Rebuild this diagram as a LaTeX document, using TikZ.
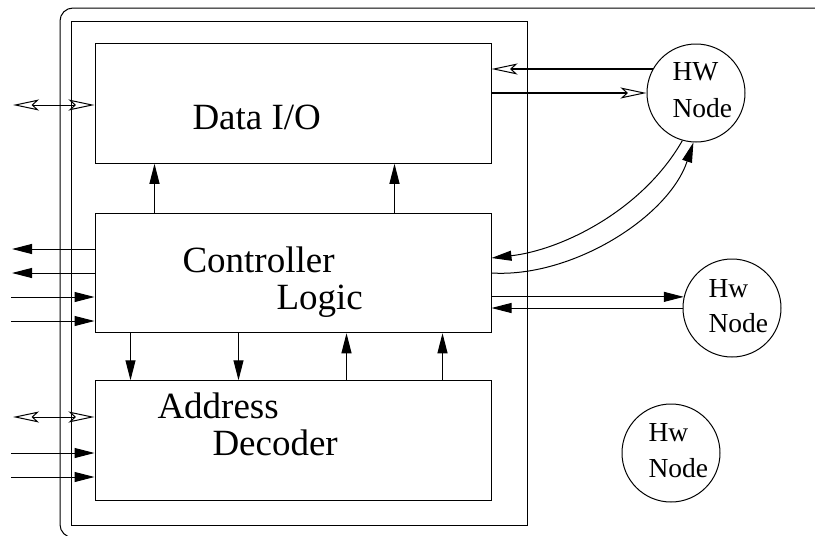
\documentclass[tikz,border=0pt]{standalone}
\usepackage{fontspec}
\setmainfont{Liberation Serif}
\usetikzlibrary{arrows.meta}
\begin{document}
\begin{tikzpicture}[x=1pt,y=-1pt,line width=1pt,
  box/.style={draw,minimum width=396pt,minimum height=119.5pt,inner sep=0pt},
  hw/.style={draw,circle,minimum size=98pt,inner sep=0pt},
  big/.style={font=\fontsize{37}{37}\selectfont,anchor=base west,inner sep=0pt},
  small/.style={font=\fontsize{27.5}{27.5}\selectfont,anchor=base west,inner sep=0pt},
  fa/.style={-{Triangle[length=20pt,width=10pt]}},
  oa/.style={-{Stealth[open,length=26pt,width=11pt,inset=6pt,line width=1pt]}},
  da/.style={{Stealth[open,length=26pt,width=11pt,inset=6pt,line width=1pt]}-{Stealth[open,length=26pt,width=11pt,inset=6pt,line width=1pt]}},
  heavy/.style={line width=2pt}]
\useasboundingbox (0,0) rectangle (815,536);
\clip (0,0) rectangle (815,536);
\draw[rounded corners=13pt] (60,8) rectangle (850,537.5);
\draw (71,21) rectangle (527,525);
% boxes
\node[box] (data) at (293,103.5) {};
\node[box] (ctrl) at (293,273) {};
\node[box] (addr) at (293,440.5) {};
% labels
\node[big] (tdata) at (192,129) {Data I/O};
\node[big] (tctrl) at (182,272) {Controller};
\node[big] (tlogic) at (276,309) {Logic};
\node[big] (taddr) at (157,418) {Address};
\node[big] (tdec) at (212,455) {Decoder};
% hw nodes
\node[hw] (hwa) at (696,93) {};
\node[hw] (hwb) at (732,308) {};
\node[hw] (hwc) at (671,453) {};
\node[small] (ta1) at (672,80) {HW};
\node[small] (ta2) at (672,117) {Node};
\node[small] (tb1) at (708,297) {Hw};
\node[small] (tb2) at (708,332) {Node};
\node[small] (tc1) at (648,441) {Hw};
\node[small] (tc2) at (648,477) {Node};
% data <-> ctrl
\draw[fa] ([xshift=60pt]ctrl.north west) -- ([xshift=60pt]data.south west);
\draw[fa] ([xshift=300pt]ctrl.north west) -- ([xshift=300pt]data.south west);
% ctrl <-> addr
\draw[fa] ([xshift=36pt]ctrl.south west) -- ([xshift=36pt]addr.north west);
\draw[fa] ([xshift=144pt]ctrl.south west) -- ([xshift=144pt]addr.north west);
\draw[fa] ([xshift=252pt]addr.north west) -- ([xshift=252pt]ctrl.south west);
\draw[fa] ([xshift=348pt]addr.north west) -- ([xshift=348pt]ctrl.south west);
% left side
\coordinate (l1) at (13,105);
\coordinate (c1) at (12,249);
\coordinate (c2) at (12,273);
\coordinate (c3) at (11,297);
\coordinate (c4) at (11,321);
\coordinate (a1) at (13,417);
\coordinate (a2) at (11,453);
\coordinate (a3) at (11,477);
\draw[da] (l1) -- (l1 -| data.west);
\draw[fa] (c1 -| ctrl.west) -- (c1);
\draw[fa] (c2 -| ctrl.west) -- (c2);
\draw[fa] (c3) -- (c3 -| ctrl.west);
\draw[fa] (c4) -- (c4 -| ctrl.west);
\draw[da] (a1) -- (a1 -| addr.west);
\draw[fa] (a2) -- (a2 -| addr.west);
\draw[fa] (a3) -- (a3 -| addr.west);
% right side
\draw[heavy,oa] (hwa.151) -- (data.east |- hwa.151);
\draw[heavy,oa] (data.east |- hwa.west) -- (hwa.west);
\draw[fa] (hwa.-106) .. controls +(-40,70) and +(70,-8) .. ([yshift=15pt]ctrl.east);
\draw[fa] (ctrl.east) .. controls +(80,5) and +(-25,75) .. (hwa.-93);
\draw[fa] (ctrl.east |- hwb.167) -- (hwb.167);
\draw[fa] (hwb.west) -- (ctrl.east |- hwb.west);
\end{tikzpicture}
\end{document}
